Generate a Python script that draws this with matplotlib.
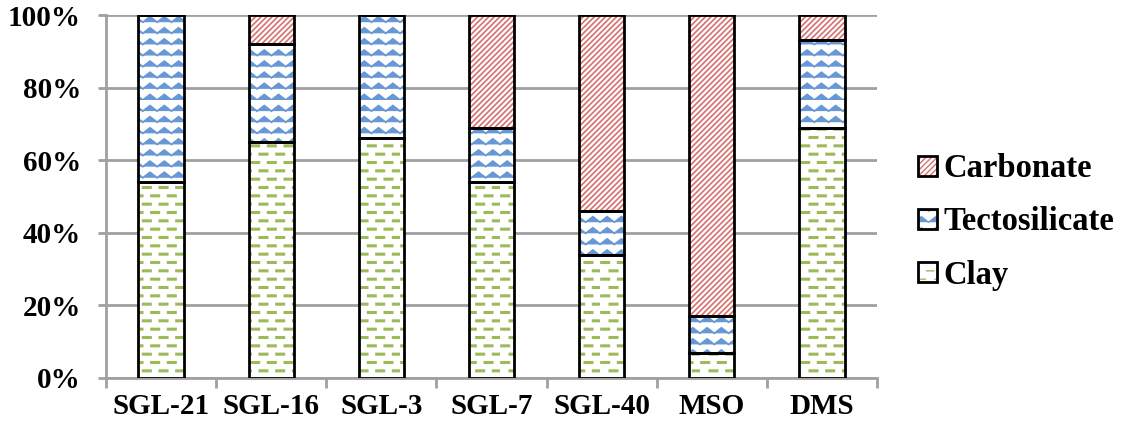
import numpy as np
import matplotlib
matplotlib.use("Agg")
import matplotlib.pyplot as plt
import matplotlib.hatch as mhatch
from matplotlib.path import Path
from matplotlib.patches import Patch
from matplotlib.ticker import FixedLocator, PercentFormatter

# ---- data ----
samples = ["SGL-21", "SGL-16", "SGL-3", "SGL-7", "SGL-40", "MSO", "DMS"]
clay = [54, 65, 66, 54, 34, 7, 69]
tectosilicate = [46, 27, 34, 15, 12, 10, 24]
carbonate = [0, 8, 0, 31, 54, 83, 7]
y_ticks = [0, 20, 40, 60, 80, 100]


# ---- custom hatch patterns: staggered dashes ('-') and zig-zag ('O') ----
class DashHatch(mhatch.HatchPatternBase):
    def __init__(self, hatch, density):
        self.num_rows = int(hatch.count('-') * density)
        self.num_dashes = 6
        self.num_vertices = self.num_rows * self.num_dashes * 2

    def set_vertices_and_codes(self, vertices, codes):
        k = 0
        dash = 0.07
        for r in range(self.num_rows):
            y = (r + 0.5) / self.num_rows
            off = 0.0 if r % 2 == 0 else 0.5
            for d in range(self.num_dashes):
                x0 = (d + off + 0.1) / self.num_dashes
                vertices[k] = (x0, y)
                vertices[k + 1] = (x0 + dash, y)
                codes[k] = Path.MOVETO
                codes[k + 1] = Path.LINETO
                k += 2


class ZigZagHatch(mhatch.HatchPatternBase):
    def __init__(self, hatch, density):
        self.num_rows = int(hatch.count('O') * density * 1.5)
        self.periods = 7
        self.pts = 2 * self.periods + 1
        self.num_vertices = self.num_rows * self.pts

    def set_vertices_and_codes(self, vertices, codes):
        k = 0
        amp = 0.055
        for r in range(self.num_rows):
            y = r / self.num_rows
            for i in range(self.pts):
                x = i / (2 * self.periods)
                vertices[k] = (x, y + (amp if i % 2 else 0.0))
                codes[k] = Path.MOVETO if i == 0 else Path.LINETO
                k += 1


mhatch._hatch_types[0] = DashHatch
mhatch._hatch_types[5] = ZigZagHatch

plt.rcParams['font.family'] = ['Liberation Serif', 'DejaVu Serif']
plt.rcParams['font.weight'] = 'bold'

fig = plt.figure(figsize=(11.27, 4.33), dpi=100)
ax = fig.add_axes([106 / 1127, 55 / 433, 771 / 1127, 363 / 433])

x = np.arange(len(samples))
width = 0.41

# name, values, hatch colour, hatch, hatch line width
series = [
    ("Clay", clay, '#9BBB59', '--', 2.2),
    ("Tectosilicate", tectosilicate, '#6797D4', 'O', 1.3),
    ("Carbonate", carbonate, '#D6706C', '//////', 1.2),
]

bottom = np.zeros(len(samples))
handles = {}
for name, vals, col, hatch, hlw in series:
    vals = np.asarray(vals, dtype=float)
    with plt.rc_context({'hatch.linewidth': hlw}):
        ax.bar(x, vals, width, bottom=bottom, color='white', edgecolor=col,
               hatch=hatch, linewidth=0, zorder=3)
        hp = Patch(facecolor='white', edgecolor=col, hatch=hatch, linewidth=0)
    ax.bar(x, vals, width, bottom=bottom, fill=False, edgecolor='black',
           linewidth=2, zorder=4)
    handles[name] = (hp, Patch(fill=False, edgecolor='black', linewidth=2))
    bottom += vals

# axes styling
ax.set_xlim(-0.5, len(samples) - 0.5)
ax.set_ylim(0, 100)
ax.yaxis.set_major_locator(FixedLocator(y_ticks))
ax.yaxis.set_major_formatter(PercentFormatter(decimals=0))
ax.grid(axis='y', color='#A0A0A0', linewidth=2, zorder=0)
ax.set_axisbelow(True)
for s in ['top', 'right']:
    ax.spines[s].set_visible(False)
for s in ['left', 'bottom']:
    ax.spines[s].set_color('#A0A0A0')
    ax.spines[s].set_linewidth(2)

ax.set_xticks(x)
ax.set_xticklabels(samples)
ax.xaxis.set_minor_locator(FixedLocator(np.arange(-0.5, len(samples), 1.0)))
ax.tick_params(axis='x', which='major', length=0, pad=11, labelsize=21)
ax.tick_params(axis='x', which='minor', length=7, width=2, color='#A0A0A0', direction='out')
ax.tick_params(axis='y', which='major', length=6, width=2, color='#A0A0A0', pad=12, labelsize=21)
for lab in ax.get_xticklabels() + ax.get_yticklabels():
    lab.set_fontweight('bold')

order = ["Carbonate", "Tectosilicate", "Clay"]
leg = fig.legend([handles[n] for n in order], order,
                 loc='center left', bbox_to_anchor=(918 / 1127, 211 / 433),
                 frameon=False, prop={'family': 'Liberation Serif', 'weight': 'bold', 'size': 23.5},
                 borderpad=0, borderaxespad=0,
                 handlelength=0.57, handleheight=0.57, handletextpad=0.2, labelspacing=0.68)

fig.savefig("out.png", dpi=100)
